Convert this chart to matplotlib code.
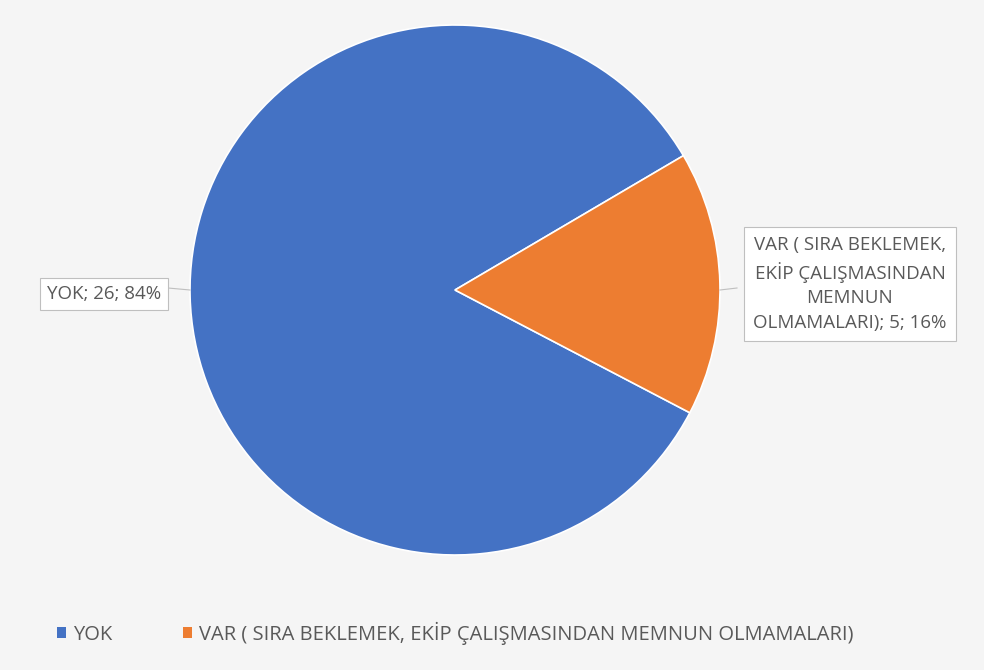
import matplotlib.pyplot as plt
from matplotlib.patches import Patch

labels = ["YOK", "VAR ( SIRA BEKLEMEK, EKİP ÇALIŞMASINDAN MEMNUN OLMAMALARI)"]
counts = [26, 5]
percents = [84, 16]
colors = ["#4472C4", "#ED7D31"]

plt.rcParams['font.family'] = ['Open Sans', 'DejaVu Sans']

fig = plt.figure(figsize=(9.84, 6.70), dpi=100, facecolor="#f5f5f5")
ax = fig.add_axes([190/984, 115/670, 530/984, 530/670])
ax.set_facecolor("#f5f5f5")

wedges, _ = ax.pie(counts, colors=colors, startangle=-27.6, counterclock=False,
                   wedgeprops=dict(edgecolor="white", linewidth=1.2))
ax.set_xlim(-1, 1)
ax.set_ylim(-1, 1)
ax.set_aspect("equal")
ax.axis("off")

txtcol = "#595959"

# YOK label (left)
box = dict(boxstyle="square,pad=0.35", facecolor="white", edgecolor="#bfbfbf", linewidth=0.8)
fig.text(104/984, 1 - 294/670, f"{labels[0]}; {counts[0]}; {percents[0]}%",
         ha="center", va="center", fontsize=13.5, color=txtcol, bbox=box)
fig.add_artist(plt.Line2D([168/984, 190/984], [1 - 288/670, 1 - 290/670],
                          color="#bfbfbf", lw=0.8))

# VAR label (right)
box2 = dict(boxstyle="square,pad=0.5", facecolor="white", edgecolor="#bfbfbf", linewidth=0.8)
var_txt = f"VAR ( SIRA BEKLEMEK,\nEKİP ÇALIŞMASINDAN\nMEMNUN\nOLMAMALARI); {counts[1]}; {percents[1]}%"
fig.text(850/984, 1 - 284/670, var_txt, ha="center", va="center", fontsize=13.5,
         color=txtcol, linespacing=1.45, bbox=box2)
fig.add_artist(plt.Line2D([720/984, 737/984], [1 - 290/670, 1 - 288/670],
                          color="#bfbfbf", lw=0.8))

handles = [Patch(facecolor=c, edgecolor="none") for c in colors]
fig.legend(handles, labels, loc="center", bbox_to_anchor=(455/984, 1 - 633/670),
           ncol=2, frameon=False, fontsize=14.5, labelcolor=txtcol,
           handlelength=0.45, handleheight=0.45, handletextpad=0.35, columnspacing=3.5)

fig.savefig("out.png", dpi=100, facecolor=fig.get_facecolor())
